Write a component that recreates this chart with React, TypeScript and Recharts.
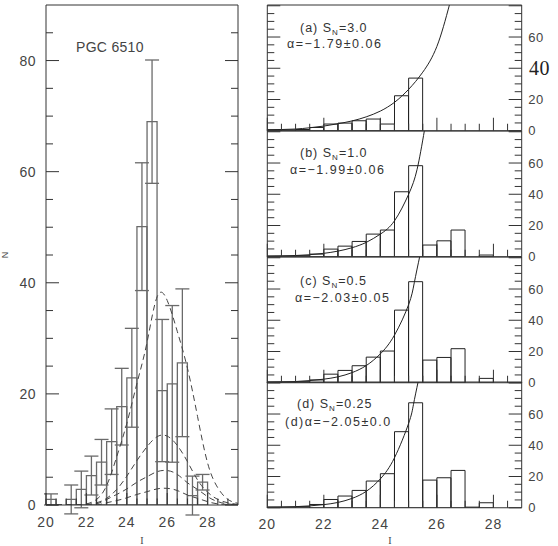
import React from 'react';
import { ComposedChart, Bar, Line, XAxis, YAxis, ErrorBar } from 'recharts';

// ---------------- Left panel data ----------------
const leftBins = [20, 20.5, 21, 21.5, 22, 22.5, 23, 23.5, 24, 24.5, 25, 25.5, 26, 26.5, 27, 27.5, 28, 28.5, 29];
const leftCounts = [1, 0, 1, 2.8, 5.3, 7.7, 11.4, 17.7, 22.9, 50.1, 69, 20.6, 21.8, 25.6, 1.7, 4.1, 0, 0, 0];
const leftErrors = [1, null, 2.6, 3.3, 3.5, 4.1, 5.9, 6.9, 8.9, 11.5, 11.1, 12.8, 14.1, 13.3, 3.5, 1.4, null, null, null];

const gaussMags = [20, 20.5, 21, 21.5, 22, 22.5, 23, 23.5, 24, 24.5, 25, 25.5, 26, 26.5, 27, 27.5, 28, 28.5, 29, 29.5];
const gauss1 = [0, 0, 0, 0, 0.2, 1.0, 3.5, 8.7, 14.7, 21.9, 29.3, 37.5, 36.8, 31.2, 24.6, 15.9, 7.5, 3.1, 1.0, 0.3];
const gauss2 = [0, 0, 0, 0, 0.1, 0.4, 1.2, 2.8, 5.2, 8.0, 10.5, 12.3, 12.4, 10.7, 7.8, 4.5, 2.3, 1.0, 0.4, 0.1];
const gauss3 = [0, 0, 0, 0, 0, 0.2, 1.0, 1.9, 2.9, 4.1, 5.1, 6.0, 6.2, 5.5, 4.0, 2.8, 1.5, 0.6, 0.2, 0];
const gauss4 = [0, 0, 0, 0, 0, 0, 0.4, 0.8, 1.3, 1.9, 2.4, 2.9, 3.0, 2.6, 1.8, 1.2, 0.6, 0.2, 0.1, 0];

const leftXTicks = [20, 20.5, 21, 21.5, 22, 22.5, 23, 23.5, 24, 24.5, 25, 25.5, 26, 26.5, 27, 27.5, 28, 28.5, 29];
const leftXMajor = [20, 22, 24, 26, 28];
const leftYTicks = [0, 5, 10, 15, 20, 25, 30, 35, 40, 45, 50, 55, 60, 65, 70, 75, 80, 85];
const leftYMajor = [0, 20, 40, 60, 80];

// ---------------- Right panels data ----------------
const rightBins = [20, 20.5, 21, 21.5, 22, 22.5, 23, 23.5, 24, 24.5, 25, 25.5, 26, 26.5, 27, 27.5, 28, 28.5];
const countsA = [0.6, 0.6, 0.8, 2.1, 4.3, 4.9, 6.4, 7.5, 4.3, 22.4, 33.7, 0, 0, 0, 0, 0, 0, 0];
const countsB = [0.5, 0.5, 0.7, 1.7, 4.9, 6.8, 9.8, 14.5, 17.1, 41.6, 58.3, 7.5, 10.2, 17.1, 0, 1.1, 0, 0];
const countsC = [0.5, 0.5, 0.7, 1.8, 5.5, 7.9, 10.9, 16.4, 20.3, 46.5, 64.7, 14.5, 16.2, 21.8, 0, 2.8, 0, 0];
const countsD = [0.5, 0.5, 0.7, 2.1, 5.3, 7.5, 11.1, 17.1, 21.8, 48.7, 67.2, 17.7, 19.2, 23.9, 0.4, 3.2, 0, 0];

const fitMagsA = [20, 20.5, 21, 21.5, 22, 22.5, 23, 23.5, 24, 24.5, 25, 25.5, 26, 26.45];
const fitA = [0.6, 0.8, 1.1, 1.9, 3.0, 4.5, 6.3, 8.9, 12.6, 18.2, 26.5, 37.5, 54, 81];
const fitMagsB = [20, 20.5, 21, 21.5, 22, 22.5, 23, 23.5, 24, 24.5, 25, 25.3, 25.56];
const fitB = [0.3, 0.5, 0.8, 1.3, 2.2, 3.6, 5.8, 9.2, 14.5, 23, 40, 56, 81];
const fitMagsC = [20, 20.5, 21, 21.5, 22, 22.5, 23, 23.5, 24, 24.5, 25, 25.2, 25.4];
const fitC = [0.3, 0.5, 0.8, 1.4, 2.3, 3.8, 6.5, 11, 18.5, 30.5, 50, 64, 81.5];
const fitMagsD = [20, 20.5, 21, 21.5, 22, 22.5, 23, 23.5, 24, 24.5, 25, 25.17, 25.34];
const fitD = [0.3, 0.4, 0.7, 1.2, 2.0, 3.4, 6.0, 10.5, 18.5, 32, 54, 66, 81];

const rightXTicks = [20, 20.5, 21, 21.5, 22, 22.5, 23, 23.5, 24, 24.5, 25, 25.5, 26, 26.5, 27, 27.5, 28, 28.5];
const rightXMajor = [20, 22, 24, 26, 28];
const rightYTicks = [0, 5, 10, 15, 20, 25, 30, 35, 40, 45, 50, 55, 60, 65, 70, 75, 80];
const rightYMajor = [0, 20, 40, 60, 80];
const rightYLabels = [0, 20, 40, 60];

const panelTags = ['(a)', '(b)', '(c)', '(d)'];
const snValues = ['3.0', '1.0', '0.5', '0.25'];
const alphaTexts = ['α=−1.79±0.06', 'α=−1.99±0.06', 'α=−2.03±0.05', '(d)α=−2.05±0.0'];

// ---------------- Styles / layout ----------------
const SANS = "'Liberation Sans', Arial, sans-serif";
const SERIF = "'Liberation Serif', 'Times New Roman', serif";
const FRAME = '#333';
const LABEL = '#444';
const PANEL_TOPS = [5, 130.75, 256.5, 382.25];
const PANEL_H = 125.75;
const LINE1_OFF = [27, 26, 28, 25.5];
const LINE2_OFF = [42.5, 43.5, 45.5, 43.5];
const LINE1_X = [300, 300, 300, 297];
const LINE2_X = [287, 290, 295, 285];

type TickCfg = {
  orient: 'left' | 'right' | 'top' | 'bottom';
  majors: number[];
  labels: number[];
  majorLen: number;
  minorLen: number;
  gap: number;
  fontSize: number;
  special?: { value: number; fontFamily: string; fontSize: number; fill: string; gap: number };
};

const makeTick = (c: TickCfg) => (props: any) => {
  const { x, y, payload } = props;
  const v = payload.value;
  const len = c.majors.includes(v) ? c.majorLen : c.minorLen;
  let x2 = x;
  let y2 = y;
  if (c.orient === 'left') x2 = x + len;
  else if (c.orient === 'right') x2 = x - len;
  else if (c.orient === 'top') y2 = y + len;
  else y2 = y - len;
  let label: any = null;
  if (c.labels.includes(v)) {
    const sp = c.special && c.special.value === v ? c.special : null;
    const fam = sp ? sp.fontFamily : SANS;
    const fs = sp ? sp.fontSize : c.fontSize;
    const fill = sp ? sp.fill : LABEL;
    const gap = sp ? sp.gap : c.gap;
    if (c.orient === 'left') {
      label = (
        <text x={x - gap} y={y} dy="0.36em" textAnchor="end" fontFamily={fam} fontSize={fs} fill={fill} letterSpacing={0.5}>
          {v}
        </text>
      );
    } else if (c.orient === 'right') {
      label = (
        <text x={x + gap} y={y} dy="0.36em" textAnchor="start" fontFamily={fam} fontSize={fs} fill={fill} letterSpacing={0.5}>
          {v}
        </text>
      );
    } else if (c.orient === 'bottom') {
      label = (
        <text x={x} y={y + gap} dy="0.36em" textAnchor="middle" fontFamily={fam} fontSize={fs} fill={fill} letterSpacing={1}>
          {v}
        </text>
      );
    }
  }
  return (
    <g>
      <line x1={x} y1={y} x2={x2} y2={y2} stroke={FRAME} strokeWidth={1} />
      {label}
    </g>
  );
};

const axisCommon = {
  tickLine: false,
  tickSize: 0,
  tickMargin: 0,
  interval: 0 as const,
  allowDataOverflow: true,
  axisLine: { stroke: FRAME, strokeWidth: 1 },
};

function LeftPanel() {
  const data = leftBins.map((b, i) => ({ bin: b, count: leftCounts[i], err: leftErrors[i] }));
  const gData = gaussMags.map((m, i) => ({ x: m, g1: gauss1[i], g2: gauss2[i], g3: gauss3[i], g4: gauss4[i] }));
  const dashProps = {
    xAxisId: 'num',
    yAxisId: 'l',
    type: 'natural' as const,
    stroke: '#444',
    strokeWidth: 1,
    strokeDasharray: '6 4',
    dot: false,
    activeDot: false,
    isAnimationActive: false,
    data: gData,
  };
  return (
    <ComposedChart width={250} height={546} data={data} margin={{ top: 4, right: 11, bottom: 40, left: 45 }} barCategoryGap={0} barGap={0}>
      <XAxis
        xAxisId="num"
        dataKey="x"
        type="number"
        domain={[20, 29.5]}
        ticks={leftXTicks}
        height={1}
        {...axisCommon}
        tick={makeTick({ orient: 'bottom', majors: leftXMajor, labels: leftXMajor, majorLen: 12, minorLen: 6.5, gap: 16.5, fontSize: 14 })}
      />
      <XAxis xAxisId="cat" dataKey="bin" type="category" hide height={0} />
      <XAxis
        xAxisId="top"
        orientation="top"
        type="number"
        domain={[20, 29.5]}
        ticks={leftXTicks}
        height={1}
        {...axisCommon}
        tick={makeTick({ orient: 'top', majors: leftXMajor, labels: [], majorLen: 12, minorLen: 6.5, gap: 0, fontSize: 14 })}
      />
      <YAxis
        yAxisId="l"
        type="number"
        domain={[0, 90]}
        ticks={leftYTicks}
        width={1}
        {...axisCommon}
        tick={makeTick({ orient: 'left', majors: leftYMajor, labels: leftYMajor, majorLen: 13, minorLen: 7, gap: 10, fontSize: 14 })}
      />
      <YAxis
        yAxisId="r"
        orientation="right"
        type="number"
        domain={[0, 90]}
        ticks={leftYTicks}
        width={1}
        {...axisCommon}
        tick={makeTick({ orient: 'right', majors: leftYMajor, labels: [], majorLen: 13, minorLen: 7, gap: 0, fontSize: 14 })}
      />
      <Bar xAxisId="cat" yAxisId="l" dataKey="count" fill="none" stroke="#6a6a6a" strokeWidth={1.3} isAnimationActive={false}>
        <ErrorBar dataKey="err" width={7} stroke="#6a6a6a" strokeWidth={1.3} direction="y" />
      </Bar>
      <Line {...dashProps} dataKey="g1" />
      <Line {...dashProps} dataKey="g2" />
      <Line {...dashProps} dataKey="g3" />
      <Line {...dashProps} dataKey="g4" />
    </ComposedChart>
  );
}

type RightProps = { counts: number[]; fitMags: number[]; fit: number[]; showX: boolean; special: boolean };

function RightPanel({ counts, fitMags, fit, showX, special }: RightProps) {
  const data = rightBins.map((b, i) => ({ bin: b, count: counts[i] }));
  const fData = fitMags.map((m, i) => ({ x: m, y: fit[i] }));
  const bottom = showX ? 38 : 7.25;
  const height = 7 + PANEL_H + bottom;
  return (
    <ComposedChart width={308} height={height} data={data} margin={{ top: 6, right: 35.3, bottom: bottom - 1, left: 16.3 }} barCategoryGap={0} barGap={0}>
      <XAxis
        xAxisId="num"
        dataKey="x"
        type="number"
        domain={[20, 29]}
        ticks={rightXTicks}
        height={1}
        {...axisCommon}
        tick={makeTick({ orient: 'bottom', majors: rightXMajor, labels: showX ? rightXMajor : [], majorLen: 13, minorLen: 7, gap: 16.7, fontSize: 14 })}
      />
      <XAxis xAxisId="cat" dataKey="bin" type="category" hide height={0} />
      <XAxis
        xAxisId="top"
        orientation="top"
        type="number"
        domain={[20, 29]}
        ticks={rightXTicks}
        height={1}
        {...axisCommon}
        tick={makeTick({ orient: 'top', majors: rightXMajor, labels: [], majorLen: 13, minorLen: 7, gap: 0, fontSize: 14 })}
      />
      <YAxis
        yAxisId="l"
        type="number"
        domain={[0, 80.5]}
        ticks={rightYTicks}
        width={1}
        {...axisCommon}
        tick={makeTick({ orient: 'left', majors: rightYMajor, labels: [], majorLen: 13, minorLen: 7, gap: 0, fontSize: 13 })}
      />
      <YAxis
        yAxisId="r"
        orientation="right"
        type="number"
        domain={[0, 80.5]}
        ticks={rightYTicks}
        width={1}
        {...axisCommon}
        tick={makeTick({
          orient: 'right',
          majors: rightYMajor,
          labels: rightYLabels,
          majorLen: 13,
          minorLen: 7,
          gap: 6.5,
          fontSize: 13,
          special: special ? { value: 40, fontFamily: SERIF, fontSize: 20, fill: '#222', gap: 7.3 } : undefined,
        })}
      />
      <Bar xAxisId="cat" yAxisId="l" dataKey="count" fill="none" stroke="#222" strokeWidth={1} isAnimationActive={false} />
      <Line
        xAxisId="num"
        yAxisId="l"
        data={fData}
        dataKey="y"
        type="natural"
        stroke="#222"
        strokeWidth={1}
        dot={false}
        activeDot={false}
        isAnimationActive={false}
      />
    </ComposedChart>
  );
}

const rightSets = [
  { counts: countsA, fitMags: fitMagsA, fit: fitA },
  { counts: countsB, fitMags: fitMagsB, fit: fitB },
  { counts: countsC, fitMags: fitMagsC, fit: fitC },
  { counts: countsD, fitMags: fitMagsD, fit: fitD },
];

function Overlay() {
  const txt = { fontFamily: SANS, fontSize: 12.5, fill: '#333', letterSpacing: 1.5 };
  return (
    <svg width={558} height={546} style={{ position: 'absolute', left: 0, top: 0, pointerEvents: 'none' }}>
      <text x={76} y={52} fontFamily={SANS} fontSize={14} fill={LABEL} letterSpacing={0.3}>PGC 6510</text>
      <text transform="translate(8,255) rotate(-90)" textAnchor="middle" fontFamily={SANS} fontSize={9} fill={LABEL}>N</text>
      <text x={142} y={544} textAnchor="middle" fontFamily={SERIF} fontSize={10} fill={LABEL}>I</text>
      <text x={390} y={544} textAnchor="middle" fontFamily={SERIF} fontSize={10} fill={LABEL}>I</text>
      {panelTags.map((tag, i) => (
        <g key={tag}>
          <text x={LINE1_X[i]} y={PANEL_TOPS[i] + LINE1_OFF[i]} {...txt} letterSpacing={1}>
            {tag + ' S'}
            <tspan fontSize={8} dy={3}>N</tspan>
            <tspan dy={-3}>{'=' + snValues[i]}</tspan>
          </text>
          <text x={LINE2_X[i]} y={PANEL_TOPS[i] + LINE2_OFF[i]} {...txt}>
            {alphaTexts[i]}
          </text>
        </g>
      ))}
    </svg>
  );
}

export default function App() {
  return (
    <div style={{ position: 'absolute', left: 0, top: 0, width: 558, height: 546, background: '#fff', overflow: 'hidden' }}>
      <div style={{ position: 'absolute', left: 0, top: 0 }}>
        <LeftPanel />
      </div>
      {rightSets.map((s, i) => (
        <div key={i} style={{ position: 'absolute', left: 250, top: PANEL_TOPS[i] - 7 }}>
          <RightPanel counts={s.counts} fitMags={s.fitMags} fit={s.fit} showX={i === 3} special={i === 0} />
        </div>
      ))}
      <Overlay />
    </div>
  );
}
